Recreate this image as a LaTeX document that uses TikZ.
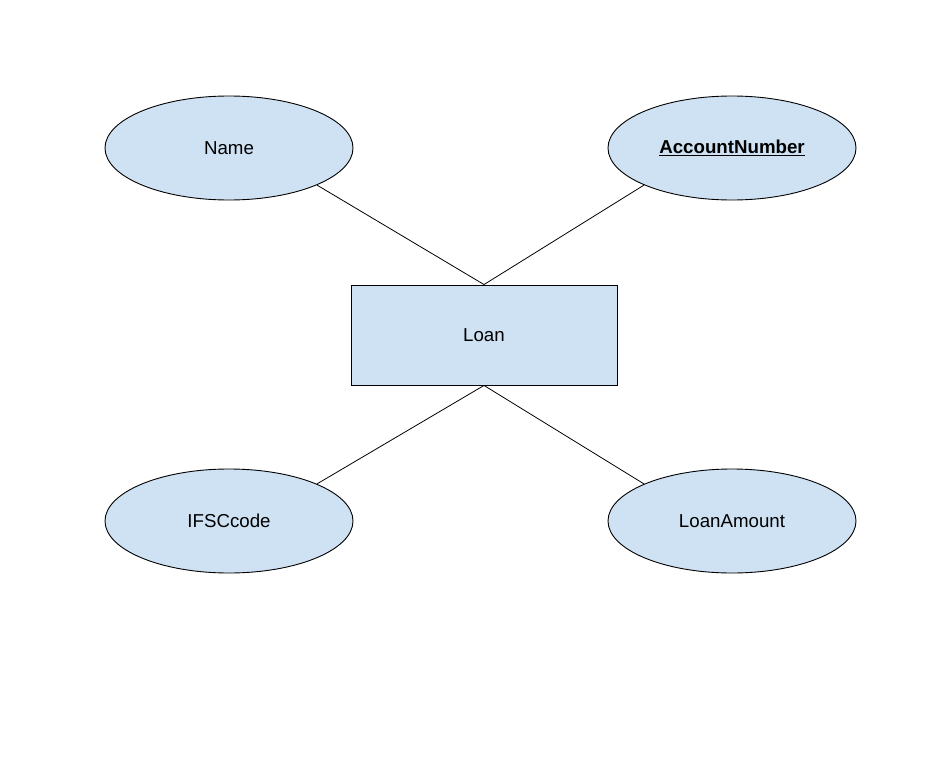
\documentclass[tikz,border=0pt]{standalone}
\usepackage{fontspec}
\setmainfont{Liberation Sans}
\usetikzlibrary{shapes.geometric}
\definecolor{attrfill}{HTML}{CFE2F3}
\tikzset{
  attr/.style={ellipse, draw=black, line width=0.9pt, fill=attrfill,
    minimum width=248pt, minimum height=104pt, inner sep=0pt,
    font=\fontsize{18.7pt}{22pt}\selectfont},
  entity/.style={rectangle, draw=black, line width=0.9pt, fill=attrfill,
    minimum width=266pt, minimum height=100pt, inner sep=0pt,
    font=\fontsize{18.7pt}{22pt}\selectfont},
  link/.style={draw=black, line width=0.8pt}
}
\begin{document}
\begin{tikzpicture}[x=1pt,y=-1pt]
\useasboundingbox[fill=white] (0,0) rectangle (951,771);
\node[entity] (loan) at (484,335) {Loan};
\node[attr] (name) at (229,148) {Name};
\node[attr] (acc) at (732,148) {\underline{\textbf{AccountNumber}}};
\node[attr] (ifsc) at (229,521) {IFSCcode};
\node[attr] (amt) at (732,521) {LoanAmount};
\draw[link] (name.south east) -- (loan.north);
\draw[link] (acc.south west) -- (loan.north);
\draw[link] (ifsc.north east) -- (loan.south);
\draw[link] (amt.north west) -- (loan.south);
\end{tikzpicture}
\end{document}
